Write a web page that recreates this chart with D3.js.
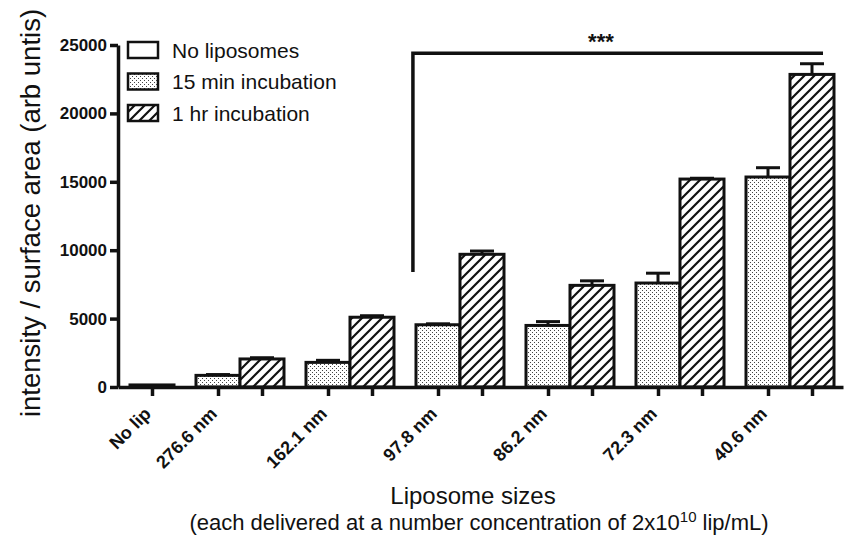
<!DOCTYPE html>
<html>
<head>
<meta charset="utf-8">
<title>Liposome sizes</title>
<script src="https://d3js.org/d3.v7.min.js"></script>
<style>
  body { margin: 0; background: #fff; }
  text { font-family: "Liberation Sans", Arial, sans-serif; fill: #111; }
  .axis path, .axis line { stroke: #111; stroke-width: 3.5px; }
  .axis text { font-weight: bold; font-size: 17px; }
</style>
</head>
<body>
<svg width="846" height="537"></svg>
<script>
  // data
  const sizes = ["276.6 nm", "162.1 nm", "97.8 nm", "86.2 nm", "72.3 nm", "40.6 nm"];
  const noLip = 150;
  const min15 = [850, 1800, 4550, 4500, 7600, 15350];
  const min15Err = [60, 150, 70, 280, 720, 680];
  const hr1 = [2050, 5100, 9700, 7430, 15200, 22850];
  const hr1Err = [90, 110, 240, 330, 60, 780];
  const yTicks = [0, 5000, 10000, 15000, 20000, 25000];
  const legendNames = ["No liposomes", "15 min incubation", "1 hr incubation"];
  const sigValue = 24400, sigLow = 8400;

  const svg = d3.select("svg");
  const defs = svg.append("defs");

  const dots = defs.append("pattern").attr("id", "dots")
    .attr("patternUnits", "userSpaceOnUse").attr("width", 4).attr("height", 4);
  dots.append("rect").attr("width", 4).attr("height", 4).attr("fill", "#fff");
  dots.append("rect").attr("x", 0).attr("y", 0).attr("width", 1).attr("height", 1).attr("fill", "#444");
  dots.append("rect").attr("x", 2).attr("y", 2).attr("width", 1).attr("height", 1).attr("fill", "#444");

  const hatch = defs.append("pattern").attr("id", "hatch")
    .attr("patternUnits", "userSpaceOnUse").attr("width", 10).attr("height", 10);
  hatch.append("rect").attr("width", 10).attr("height", 10).attr("fill", "#fff");
  hatch.append("path").attr("d", "M-2,12 L12,-2 M-2,2 L2,-2 M8,12 L12,8")
    .attr("stroke", "#111").attr("stroke-width", 2.2);

  // one bar = 1 unit, gap between groups = 0.5 unit
  const x = d3.scaleLinear().domain([-12 / 44, 16 + 9 / 44]).range([118, 843]);
  const y = d3.scaleLinear().domain([0, 25000]).range([387, 45]);
  const bw = x(1) - x(0);

  const bars = [{ u: 0, v: noLip, e: 0, fill: "#fff" }];
  sizes.forEach((s, i) => {
    bars.push({ u: 1.5 + 2.5 * i, v: min15[i], e: min15Err[i], fill: "url(#dots)" });
    bars.push({ u: 2.5 + 2.5 * i, v: hr1[i], e: hr1Err[i], fill: "url(#hatch)" });
  });

  // error bars (upper only)
  const eb = svg.append("g").attr("stroke", "#111").attr("stroke-width", 3);
  bars.filter(d => d.e > 0).forEach(d => {
    const cx = x(d.u + 0.5);
    eb.append("line").attr("x1", cx).attr("x2", cx).attr("y1", y(d.v)).attr("y2", y(d.v + d.e));
    eb.append("line").attr("x1", cx - 12).attr("x2", cx + 12).attr("y1", y(d.v + d.e)).attr("y2", y(d.v + d.e));
  });

  svg.append("g").selectAll("rect").data(bars).join("rect")
    .attr("x", d => x(d.u)).attr("width", bw)
    .attr("y", d => y(d.v)).attr("height", d => y(0) - y(d.v))
    .attr("fill", d => d.fill).attr("stroke", "#111").attr("stroke-width", 3);

  // axes
  svg.append("g").attr("class", "axis").attr("transform", `translate(118,0)`)
    .call(d3.axisLeft(y).tickValues(yTicks).tickFormat(d3.format("d")).tickSize(8).tickSizeOuter(0).tickPadding(3));

  svg.append("g").attr("class", "axis").attr("transform", `translate(0,${y(0)})`)
    .call(d3.axisBottom(x).tickValues(bars.map(d => d.u + 0.5)).tickFormat("").tickSize(9).tickSizeOuter(0));

  const labelU = [0].concat(sizes.map((s, i) => 1.5 + 2.5 * i));
  const labels = ["No lip"].concat(sizes);
  svg.append("g").selectAll("text").data(labels).join("text")
    .attr("transform", (d, i) => `translate(${x(labelU[i] + 0.5)},${y(0) + 28}) rotate(-45)`)
    .attr("text-anchor", "end").attr("font-weight", "bold").attr("font-size", 18)
    .text(d => d);

  // significance bracket
  const bx0 = x(6.43), bx1 = x(15.75);
  svg.append("path")
    .attr("d", `M${bx0},${y(sigLow)} L${bx0},${y(sigValue)} L${bx1},${y(sigValue)}`)
    .attr("fill", "none").attr("stroke", "#111").attr("stroke-width", 3.5);
  svg.append("text").attr("x", (bx0 + bx1) / 2 - 17).attr("y", y(sigValue) - 4)
    .attr("text-anchor", "middle").attr("font-weight", "bold").attr("font-size", 22).text("***");

  // legend
  const legFill = ["#fff", "url(#dots)", "url(#hatch)"];
  const leg = svg.append("g");
  legendNames.forEach((n, i) => {
    const cy = 50 + i * 31.5;
    leg.append("rect").attr("x", 128).attr("y", cy - 8).attr("width", 30).attr("height", 16)
      .attr("fill", legFill[i]).attr("stroke", "#111").attr("stroke-width", 2.5);
    leg.append("text").attr("x", 172).attr("y", cy + 7.5).attr("font-size", 21).text(n);
  });

  // titles
  svg.append("text").attr("transform", "translate(40,213) rotate(-90)")
    .attr("text-anchor", "middle").attr("font-size", 27.5)
    .text("intensity / surface area (arb untis)");
  svg.append("text").attr("x", 473).attr("y", 504).attr("text-anchor", "middle")
    .attr("font-size", 24).text("Liposome sizes");
  const sub = svg.append("text").attr("x", 479).attr("y", 530).attr("text-anchor", "middle")
    .attr("font-size", 22);
  sub.append("tspan").text("(each delivered at a number concentration of 2x10");
  sub.append("tspan").attr("dy", -8).attr("font-size", 15).text("10");
  sub.append("tspan").attr("dy", 8).text(" lip/mL)");
</script>
</body>
</html>
